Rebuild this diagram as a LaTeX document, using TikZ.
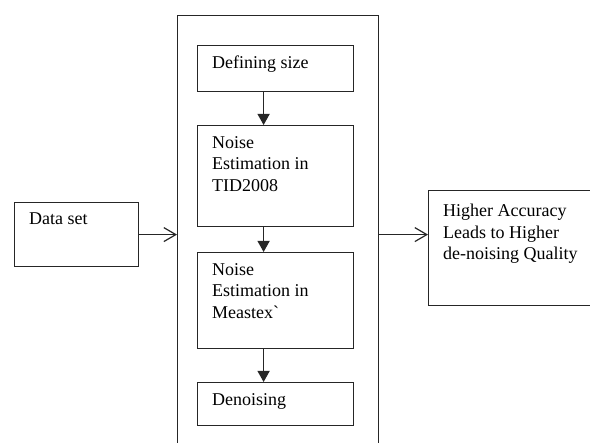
\documentclass[tikz,border=0pt]{standalone}
\usepackage{fontspec}
\setmainfont{Liberation Serif}[Ligatures=TeXOff]
\usepackage{tikz}
\usetikzlibrary{arrows.meta, positioning}

\begin{document}
\begin{tikzpicture}[
    x=1pt, y=-1pt,
    % Styles
    framebox/.style={rectangle, draw=black!85, line width=1.2pt, anchor=north west, inner sep=0pt, minimum width=#1},
    boxtext/.style={font=\fontsize{18}{21.5}\selectfont, align=left, inner sep=0pt, text=black},
    flowarrow/.style={-{Straight Barb[length=12pt, width=14pt]}, line width=1.2pt, draw=black!85},
    steparrow/.style={-{Triangle[length=11pt, width=12pt]}, line width=1.2pt, draw=black!85},
]
\clip (0,0) rectangle (590,443);

% === INPUT ===
\node[framebox=124pt, minimum height=64pt] (data) at (14,202) {};
\node[boxtext, below right=11pt and 15pt of data.north west] (datatext) {Data set};

% === PROCESS FRAME ===
\node[framebox=201pt, minimum height=460pt] (frame) at (177,15) {};

\node[framebox=156pt, minimum height=46pt] (defsize) at (197,45) {};
\node[boxtext, below right=11pt and 15pt of defsize.north west] (defsizetext) {Defining size};

\node[framebox=156pt, minimum height=101pt] (tid) at (197,125) {};
\node[boxtext, below right=11pt and 15pt of tid.north west] (tidtext) {Noise\\Estimation in\\TID2008};

\node[framebox=156pt, minimum height=96pt] (meas) at (197,252) {};
\node[boxtext, below right=11pt and 15pt of meas.north west] (meastext) {Noise\\Estimation in\\Meastex`};

\node[framebox=156pt, minimum height=43pt] (denoise) at (197,382) {};
\node[boxtext, below right=11pt and 15pt of denoise.north west] (denoisetext) {Denoising};

% === OUTPUT ===
\node[framebox=200pt, minimum height=115pt] (result) at (428,190) {};
\node[boxtext, below right=14pt and 15pt of result.north west] (resulttext) {Higher Accuracy\\Leads to Higher\\de-noising Quality};

% === ARROWS ===
\draw[flowarrow] (data.east) -- (data.east -| frame.west);
\draw[flowarrow] (frame.east |- data.east) -- (result.west |- data.east);
\draw[steparrow] ([xshift=-12pt]defsize.south) -- ([xshift=-12pt]tid.north);
\draw[steparrow] ([xshift=-12pt]tid.south) -- ([xshift=-12pt]meas.north);
\draw[steparrow] ([xshift=-12pt]meas.south) -- ([xshift=-12pt]denoise.north);

\end{tikzpicture}
\end{document}
